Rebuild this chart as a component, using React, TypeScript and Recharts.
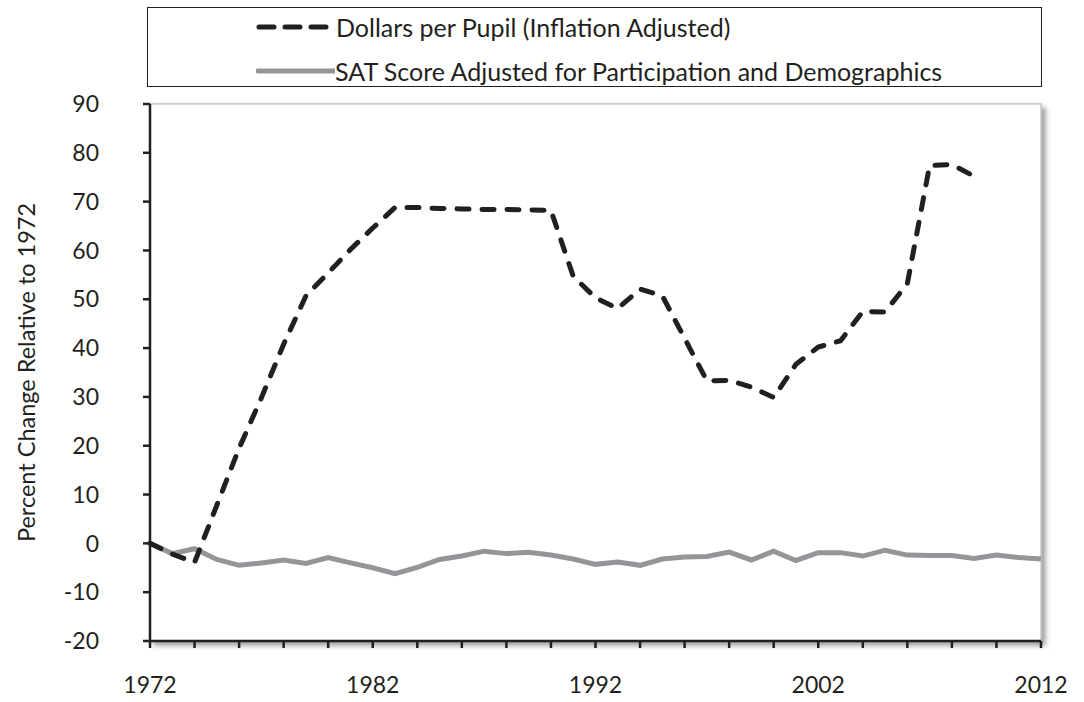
import { LineChart, Line, XAxis, YAxis, CartesianGrid, Legend, ReferenceArea } from 'recharts';

const years = [
  1972, 1973, 1974, 1975, 1976, 1977, 1978, 1979, 1980, 1981, 1982, 1983, 1984, 1985,
  1986, 1987, 1988, 1989, 1990, 1991, 1992, 1993, 1994, 1995, 1996, 1997, 1998, 1999,
  2000, 2001, 2002, 2003, 2004, 2005, 2006, 2007, 2008, 2009, 2010, 2011, 2012,
];

// dollars per pupil, % change vs 1972 (series stops at 2009)
const dollars = [
  0, -2.2, -3.9, 7.8, 19.5, 29.8, 40.8, 50.7, 55.4, 60.2, 64.6, 68.8, 68.8, 68.6,
  68.5, 68.4, 68.4, 68.3, 68.2, 54.7, 50.3, 48.1, 52.1, 50.7, 42, 33.3, 33.4, 32,
  29.9, 36.7, 40.2, 41.5, 47.5, 47.4, 53.2, 77.4, 77.6, 75.2,
];

const sat = [
  0, -2.1, -1.1, -3.3, -4.5, -4.0, -3.4, -4.1, -2.9, -4.0, -5.0, -6.2, -4.9, -3.3,
  -2.6, -1.6, -2.1, -1.8, -2.4, -3.2, -4.3, -3.8, -4.5, -3.2, -2.8, -2.7, -1.8, -3.4,
  -1.6, -3.5, -1.9, -1.9, -2.6, -1.4, -2.4, -2.5, -2.5, -3.1, -2.4, -2.9, -3.2,
];

const xTicks = [1972, 1974, 1976, 1978, 1980, 1982, 1984, 1986, 1988, 1990, 1992, 1994, 1996, 1998, 2000, 2002, 2004, 2006, 2008, 2010, 2012];
const xLabels = [1972, 1982, 1992, 2002, 2012];
const yTicks = [-20, -10, 0, 10, 20, 30, 40, 50, 60, 70, 80, 90];

const data = years.map((year, i) => ({
  year,
  dollars: i < dollars.length ? dollars[i] : null,
  sat: sat[i],
}));

const font = 'Lato, "Open Sans", sans-serif';
const LEGEND_H = 80;

const PlotBg = (props: any) => {
  const { x, y, width, height } = props;
  return (
    <g>
      <defs>
        <filter id="plotShadow" x="-5%" y="-5%" width="115%" height="115%">
          <feDropShadow dx="4" dy="4" stdDeviation="2.5" floodColor="#8a8a8a" floodOpacity="0.8" />
        </filter>
      </defs>
      <rect x={x} y={y} width={width} height={height} fill="#fff" stroke="#c8c8c8" strokeWidth={1.5} filter="url(#plotShadow)" />
    </g>
  );
};

const LegendBox = () => (
  <div
    style={{
      border: '1.5px solid #231f20',
      height: LEGEND_H,
      boxSizing: 'border-box',
      fontFamily: font,
      fontSize: 25,
      color: '#231f20',
      paddingLeft: 108,
      paddingTop: 2,
      lineHeight: 1,
    }}
  >
    <div style={{ display: 'flex', alignItems: 'center', height: 34 }}>
      <svg width={80} height={10}>
        <line x1={3} y1={5} x2={75} y2={5} stroke="#231f20" strokeWidth={5} strokeDasharray="15 11" strokeLinecap="round" />
      </svg>
      <span>Dollars per Pupil (Inflation Adjusted)</span>
    </div>
    <div style={{ display: 'flex', alignItems: 'center', height: 34, marginTop: 10 }}>
      <svg width={79} height={10}>
        <line x1={2} y1={5} x2={79} y2={5} stroke="#939598" strokeWidth={5} strokeLinecap="round" />
      </svg>
      <span>SAT Score Adjusted for Participation and Demographics</span>
    </div>
  </div>
);

const YTitle = (props: any) => {
  const { viewBox } = props;
  const cx = 26;
  const cy = viewBox.y + viewBox.height / 2;
  return (
    <text
      x={cx}
      y={cy}
      transform={`rotate(-90, ${cx}, ${cy})`}
      textAnchor="middle"
      dominantBaseline="central"
      fontFamily={font}
      fontSize={23.5}
      fill="#231f20"
    >
      Percent Change Relative to 1972
    </text>
  );
};

export default function App() {
  return (
    <div style={{ position: 'absolute', left: 0, top: 0, background: '#fff' }}>
      <LineChart width={1084} height={702} data={data} margin={{ top: 104 - LEGEND_H, right: 43, left: 0, bottom: 0 }}>
        <ReferenceArea x1={1972} x2={2012} y1={-20} y2={90} shape={PlotBg} ifOverflow="visible" />
        <CartesianGrid vertical={false} stroke="#d4d4d4" strokeWidth={1.5} />
        <XAxis
          dataKey="year"
          type="number"
          domain={[1972, 2012]}
          ticks={xTicks}
          interval={0}
          tickFormatter={(v: number) => (xLabels.includes(v) ? String(v) : '')}
          height={61}
          tickSize={7}
          tickMargin={29}
          stroke="#231f20"
          strokeWidth={2.5}
          tick={{ fontSize: 23, fill: '#231f20', fontFamily: font }}
        />
        <YAxis
          type="number"
          domain={[-20, 90]}
          ticks={yTicks}
          interval={0}
          width={150}
          tickSize={7}
          tickMargin={44}
          stroke="#231f20"
          strokeWidth={2.5}
          tick={{ fontSize: 23, fill: '#231f20', fontFamily: font }}
          label={<YTitle />}
        />
        <Legend
          verticalAlign="top"
          content={<LegendBox />}
          wrapperStyle={{ position: 'absolute', top: 7, left: 147, width: 895, height: LEGEND_H }}
        />
        <Line
          dataKey="sat"
          stroke="#939598"
          strokeWidth={5}
          dot={false}
          activeDot={false}
          strokeLinejoin="miter"
          isAnimationActive={false}
        />
        <Line
          dataKey="dollars"
          stroke="#231f20"
          strokeWidth={5}
          strokeDasharray="12 13"
          strokeLinecap="round"
          dot={false}
          activeDot={false}
          connectNulls={false}
          isAnimationActive={false}
        />
      </LineChart>
    </div>
  );
}
